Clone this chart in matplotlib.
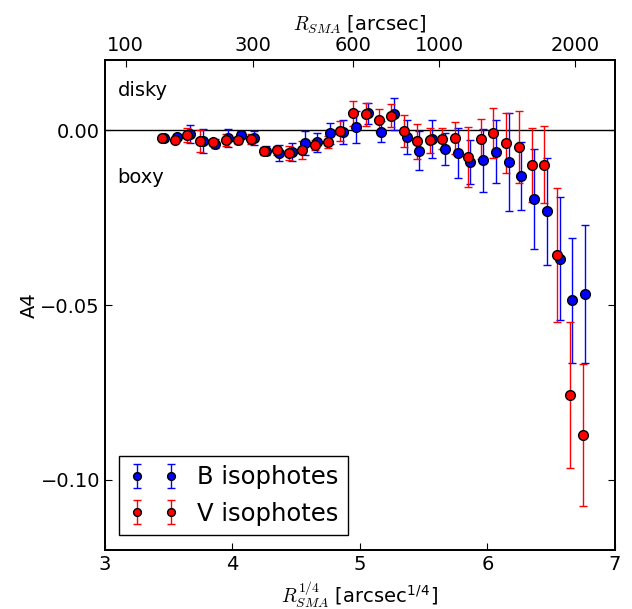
import numpy as np
import matplotlib
matplotlib.use("Agg")
import matplotlib.pyplot as plt

# R_SMA^(1/4) of the isophotes (V); B fits sit slightly further out
r14_v = [3.447, 3.547, 3.647, 3.747, 3.847, 3.947, 4.047, 4.147, 4.247, 4.347,
         4.447, 4.547, 4.647, 4.747, 4.847, 4.947, 5.047, 5.147, 5.247, 5.347,
         5.447, 5.547, 5.647, 5.747, 5.847, 5.947, 6.047, 6.147, 6.247, 6.347,
         6.447, 6.547, 6.647, 6.747]
r14_b = [3.467, 3.567, 3.667, 3.767, 3.867, 3.967, 4.067, 4.167, 4.267, 4.367,
         4.467, 4.567, 4.667, 4.767, 4.867, 4.967, 5.067, 5.167, 5.267, 5.367,
         5.467, 5.567, 5.667, 5.767, 5.867, 5.967, 6.067, 6.167, 6.267, 6.367,
         6.467, 6.567, 6.667, 6.767]

a4_b = [-0.0021, -0.0019, -0.0011, -0.0031, -0.0039, -0.0023, -0.0013, -0.0023,
        -0.0059, -0.0065, -0.0062, -0.0036, -0.0035, -0.0009, -0.0005, 0.0009,
        0.0048, -0.0004, 0.0046, -0.0019, -0.0058, -0.0026, -0.0054, -0.0065,
        -0.0092, -0.0086, -0.0061, -0.0091, -0.0131, -0.0196, -0.0232, -0.0368,
        -0.0486, -0.0469]
err_b = [0.0006, 0.0009, 0.0026, 0.0034, 0.0013, 0.0026, 0.0011, 0.0020,
         0.0013, 0.0023, 0.0026, 0.0034, 0.0026, 0.0031, 0.0034, 0.0046,
         0.0031, 0.0031, 0.0046, 0.0049, 0.0057, 0.0054, 0.0046, 0.0071,
         0.0063, 0.0090, 0.0091, 0.0140, 0.0097, 0.0143, 0.0154, 0.0176,
         0.0179, 0.0197]

a4_v = [-0.0022, -0.0027, -0.0014, -0.0031, -0.0035, -0.0028, -0.0029, -0.0024,
        -0.0060, -0.0057, -0.0064, -0.0057, -0.0042, -0.0034, -0.0003, 0.0048,
        0.0046, 0.0029, 0.0042, -0.0002, -0.0032, -0.0029, -0.0024, -0.0022,
        -0.0077, -0.0025, -0.0007, -0.0037, -0.0049, -0.0100, -0.0098, -0.0357,
        -0.0758, -0.0871]
err_v = [0.0006, 0.0006, 0.0020, 0.0031, 0.0009, 0.0016, 0.0009, 0.0014,
         0.0011, 0.0013, 0.0020, 0.0026, 0.0014, 0.0017, 0.0029, 0.0036,
         0.0033, 0.0031, 0.0034, 0.0046, 0.0051, 0.0036, 0.0031, 0.0046,
         0.0086, 0.0057, 0.0071, 0.0086, 0.0103, 0.0106, 0.0111, 0.0191,
         0.0209, 0.0204]

top_ticks = [100, 300, 600, 1000, 2000]

plt.rcParams['font.size'] = 14
plt.rcParams['mathtext.fontset'] = 'cm'
plt.rcParams['xtick.direction'] = 'in'
plt.rcParams['ytick.direction'] = 'in'
plt.rcParams['xtick.major.size'] = 5
plt.rcParams['ytick.major.size'] = 5
plt.rcParams['ytick.right'] = True
plt.rcParams['axes.linewidth'] = 1.3

fig = plt.figure(figsize=(6.32, 6.09), dpi=100)
ax = fig.add_axes([0.166, 0.097, 0.807, 0.804])

ax.axhline(0, color='k', lw=1)
ax.errorbar(r14_b, a4_b, yerr=err_b, fmt='o', color='b', ecolor='b',
            mec='k', ms=7, capsize=3, elinewidth=1, label='B isophotes')
ax.errorbar(r14_v, a4_v, yerr=err_v, fmt='o', color='r', ecolor='r',
            mec='k', ms=7, capsize=3, elinewidth=1, label='V isophotes')

ax.text(3.1, 0.0115, 'disky', fontsize=14, va='center')
ax.text(3.1, -0.0135, 'boxy', fontsize=14, va='center')

ax.set_xlim(3, 7)
ax.set_ylim(-0.12, 0.02)
ax.set_xticks([3, 4, 5, 6, 7])
ax.set_yticks([-0.10, -0.05, 0.00])
ax.set_yticklabels(['\u22120.10', '\u22120.05', '0.00'])
ax.set_xlabel(r'$R_{SMA}^{1/4}$ [arcsec$^{\mathregular{1/4}}$]')
ax.set_ylabel('A4', labelpad=1)

leg = ax.legend(loc='lower left', numpoints=2, fontsize=17.5, fancybox=False,
                edgecolor='k', framealpha=1, borderaxespad=0.6, markerscale=0.8)
leg.get_frame().set_linewidth(1)

ax2 = ax.twiny()
ax2.set_xlim(3, 7)
ax2.set_xticks(np.array(top_ticks) ** 0.25)
ax2.set_xticklabels([str(t) for t in top_ticks])
ax2.set_xlabel(r'$R_{SMA}$ [arcsec]')

fig.savefig('out.png', dpi=100)
